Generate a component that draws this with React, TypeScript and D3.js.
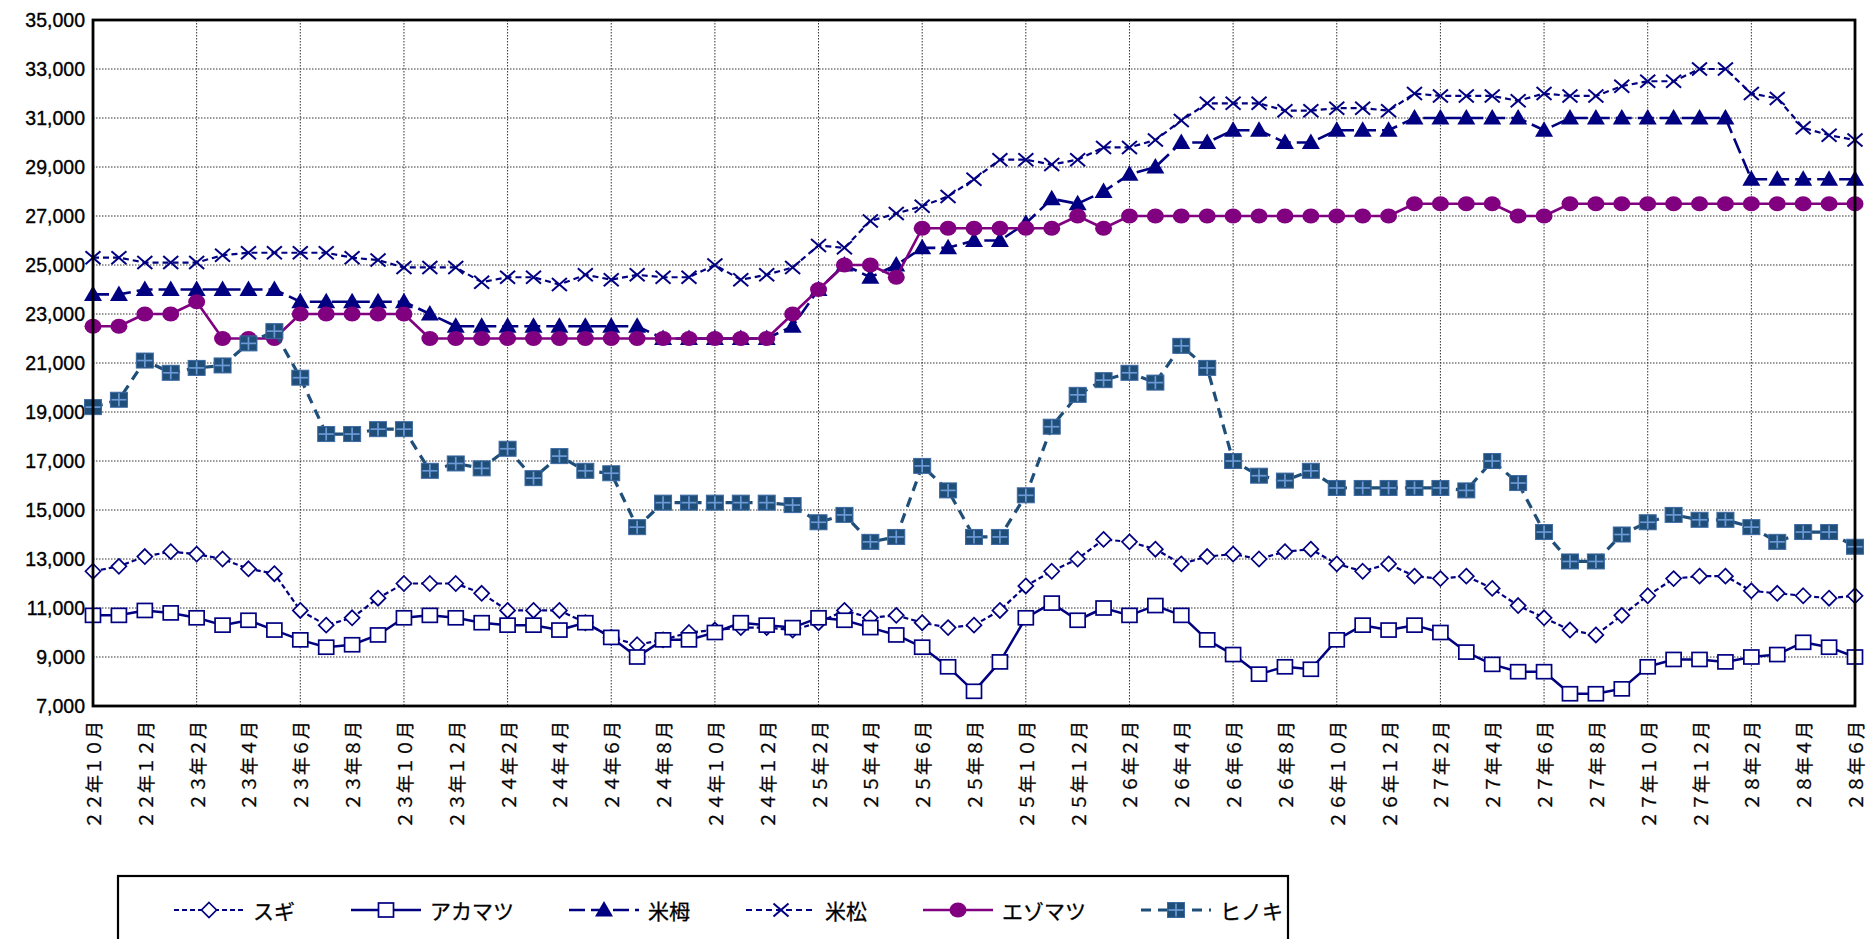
import React from 'react';
import * as d3 from 'd3';

// Categories: monthly from 22年10月 to 28年6月 (69 months)
const months: string[] = [
  '22/10','22/11','22/12','23/1','23/2','23/3','23/4','23/5','23/6','23/7','23/8','23/9','23/10','23/11','23/12',
  '24/1','24/2','24/3','24/4','24/5','24/6','24/7','24/8','24/9','24/10','24/11','24/12',
  '25/1','25/2','25/3','25/4','25/5','25/6','25/7','25/8','25/9','25/10','25/11','25/12',
  '26/1','26/2','26/3','26/4','26/5','26/6','26/7','26/8','26/9','26/10','26/11','26/12',
  '27/1','27/2','27/3','27/4','27/5','27/6','27/7','27/8','27/9','27/10','27/11','27/12',
  '28/1','28/2','28/3','28/4','28/5','28/6'
];

// X tick labels (every 2 months)
const xTickLabels: string[] = [
  '２２年１０月','２２年１２月','２３年２月','２３年４月','２３年６月','２３年８月','２３年１０月','２３年１２月',
  '２４年２月','２４年４月','２４年６月','２４年８月','２４年１０月','２４年１２月',
  '２５年２月','２５年４月','２５年６月','２５年８月','２５年１０月','２５年１２月',
  '２６年２月','２６年４月','２６年６月','２６年８月','２６年１０月','２６年１２月',
  '２７年２月','２７年４月','２７年６月','２７年８月','２７年１０月','２７年１２月',
  '２８年２月','２８年４月','２８年６月'
];

const yTicks: number[] = [7000, 9000, 11000, 13000, 15000, 17000, 19000, 21000, 23000, 25000, 27000, 29000, 31000, 33000, 35000];

const sugi: number[] = [
  12500,12700,13100,13300,13200,13000,12600,12400,10900,10300,
  10600,11400,12000,12000,12000,11600,10900,10900,10900,10400,9800,
  9500,9700,10000,10100,10200,10200,10100,10400,10900,10600,10700,10400,
  10200,10300,10900,11900,12500,13000,13800,13700,13400,12800,13100,
  13200,13000,13300,13400,12800,12500,12800,12300,12200,12300,11800,11100,
  10600,10100,9900,10700,11500,12200,12300,12300,11700,11600,11500,11400,11500
];

const akamatsu: number[] = [
  10700,10700,10900,10800,10600,10300,10500,10100,9700,9400,
  9500,9900,10600,10700,10600,10400,10300,10300,10100,10400,9800,
  9000,9700,9700,10000,10400,10300,10200,10600,10500,10200,9900,9400,
  8600,7600,8800,10600,11200,10500,11000,10700,11100,10700,9700,
  9100,8300,8600,8500,9700,10300,10100,10300,10000,9200,8700,8400,
  8400,7500,7500,7700,8600,8900,8900,8800,9000,9100,9600,9400,9000
];

const beitsuga: number[] = [
  23800,23800,24000,24000,24000,24000,24000,24000,23500,23500,
  23500,23500,23500,23000,22500,22500,22500,22500,22500,22500,22500,
  22500,22000,22000,22000,22000,22000,22500,24000,25000,24500,25000,25700,
  25700,26000,26000,26700,27700,27500,28000,28700,29000,30000,30000,
  30500,30500,30000,30000,30500,30500,30500,31000,31000,31000,31000,31000,
  30500,31000,31000,31000,31000,31000,31000,31000,28500,28500,28500,28500,28500
];

const beimatsu: number[] = [
  25300,25300,25100,25100,25100,25400,25500,25500,25500,25500,
  25300,25200,24900,24900,24900,24300,24500,24500,24200,24600,24400,
  24600,24500,24500,25000,24400,24600,24900,25800,25700,26800,27100,27400,
  27800,28500,29300,29300,29100,29300,29800,29800,30100,30900,31600,
  31600,31600,31300,31300,31400,31400,31300,32000,31900,31900,31900,31700,
  32000,31900,31900,32300,32500,32500,33000,33000,32000,31800,30600,30300,30100
];

const ezomatsu: number[] = [
  22500,22500,23000,23000,23500,22000,22000,22000,23000,23000,
  23000,23000,23000,22000,22000,22000,22000,22000,22000,22000,22000,
  22000,22000,22000,22000,22000,22000,23000,24000,25000,25000,24500,26500,
  26500,26500,26500,26500,26500,27000,26500,27000,27000,27000,27000,
  27000,27000,27000,27000,27000,27000,27000,27500,27500,27500,27500,27000,
  27000,27500,27500,27500,27500,27500,27500,27500,27500,27500,27500,27500,27500
];

const hinoki: number[] = [
  19200,19500,21100,20600,20800,20900,21800,22300,20400,18100,
  18100,18300,18300,16600,16900,16700,17500,16300,17200,16600,16500,
  14300,15300,15300,15300,15300,15300,15200,14500,14800,13700,13900,16800,
  15800,13900,13900,15600,18400,19700,20300,20600,20200,21700,20800,
  17000,16400,16200,16600,15900,15900,15900,15900,15900,15800,17000,16100,
  14100,12900,12900,14000,14500,14800,14600,14600,14300,13700,14100,14100,13500
];

type MarkerKind = 'diamond' | 'square' | 'triangle' | 'cross' | 'circle' | 'hinoki';

interface SeriesDef {
  name: string;
  values: number[];
  color: string;
  width: number;
  dash: string;
  marker: MarkerKind;
}

const NAVY = '#000080';
const PURPLE = '#800080';
const HINOKI = '#1F4E79';

const seriesDefs: SeriesDef[] = [
  { name: 'スギ', values: sugi, color: NAVY, width: 2.2, dash: '5,3', marker: 'diamond' },
  { name: 'アカマツ', values: akamatsu, color: NAVY, width: 2.5, dash: '', marker: 'square' },
  { name: '米栂', values: beitsuga, color: NAVY, width: 2.6, dash: '16,6', marker: 'triangle' },
  { name: '米松', values: beimatsu, color: NAVY, width: 2.2, dash: '6,4', marker: 'cross' },
  { name: 'エゾマツ', values: ezomatsu, color: PURPLE, width: 2.6, dash: '', marker: 'circle' },
  { name: 'ヒノキ', values: hinoki, color: HINOKI, width: 3.2, dash: '10,7', marker: 'hinoki' },
];

const W = 1868;
const H = 939;
const PL = 93, PR = 1855, PT = 20, PB = 706;

function Marker({ kind, x, y, color }: { kind: MarkerKind; x: number; y: number; color: string }) {
  switch (kind) {
    case 'diamond':
      return <polygon points={`${x},${y - 7.5} ${x + 7.5},${y} ${x},${y + 7.5} ${x - 7.5},${y}`} fill="#fff" stroke={color} strokeWidth={1.7} />;
    case 'square':
      return <rect x={x - 7.5} y={y - 7} width={15} height={14} fill="#fff" stroke={color} strokeWidth={1.7} />;
    case 'triangle':
      return <polygon points={`${x},${y - 9} ${x + 9},${y + 6.5} ${x - 9},${y + 6.5}`} fill={color} />;
    case 'cross':
      return (
        <g stroke={color} strokeWidth={2}>
          <line x1={x - 7.5} y1={y - 6.5} x2={x + 7.5} y2={y + 6.5} />
          <line x1={x - 7.5} y1={y + 6.5} x2={x + 7.5} y2={y - 6.5} />
        </g>
      );
    case 'circle':
      return <ellipse cx={x} cy={y} rx={8.5} ry={7.5} fill={color} />;
    case 'hinoki':
      return (
        <g>
          <rect x={x - 8.5} y={y - 7.5} width={17} height={15} fill={HINOKI} stroke="#3D6AA3" strokeWidth={1} />
          <line x1={x} y1={y - 6.5} x2={x} y2={y + 6.5} stroke="#6D9AD6" strokeWidth={1.7} />
          <line x1={x - 7.5} y1={y} x2={x + 7.5} y2={y} stroke="#6D9AD6" strokeWidth={1.7} />
        </g>
      );
  }
  return null;
}

export default function App() {
  const x = d3.scaleLinear().domain([0, months.length - 1]).range([PL, PR]);
  const y = d3.scaleLinear().domain([7000, 35000]).range([PB, PT]);
  const lineGen = d3.line<number>().x((_, i) => x(i)).y(d => y(d));
  const fmt = d3.format(',');

  const vGrid = d3.range(4, months.length - 1, 4);

  // legend layout
  const legendY = 910;
  let cursor = 174;
  const legendItems = seriesDefs.map(s => {
    const start = cursor;
    const textW = s.name.length * 20.5;
    cursor = start + 70 + 9 + textW + 57;
    return { s, start };
  });

  return (
    <svg width={W} height={H} style={{ position: 'fixed', left: 0, top: 0, background: '#fff' }}
      fontFamily="'Liberation Sans', Arial, sans-serif">
      <rect x={0} y={0} width={W} height={H} fill="#fff" />
      {/* grid */}
      {yTicks.filter(t => t > 7000 && t < 35000).map(t => (
        <line key={'h' + t} x1={PL} x2={PR} y1={y(t)} y2={y(t)} stroke="#333" strokeWidth={1} strokeDasharray="1.5,1.5" />
      ))}
      {vGrid.map(i => (
        <line key={'v' + i} x1={x(i)} x2={x(i)} y1={PT} y2={PB} stroke="#333" strokeWidth={1} strokeDasharray="1.5,1.5" />
      ))}
      {/* y tick labels */}
      {yTicks.map(t => (
        <text key={'yl' + t} x={85} y={y(t)} textAnchor="end" dominantBaseline="central" fontSize={19.5} fill="#000"
          stroke="#000" strokeWidth={0.35}>
          {fmt(t)}
        </text>
      ))}
      {/* x tick labels */}
      {xTickLabels.map((lab, k) => {
        const xi = x(k * 2);
        return (
          <text key={'xl' + k} transform={`translate(${xi},721) rotate(-90)`} textAnchor="end" dominantBaseline="central"
            fontSize={18} fontFamily="'Noto Sans CJK JP', sans-serif" fill="#000" stroke="#000" strokeWidth={0.25}>
            {lab}
          </text>
        );
      })}
      {/* series */}
      {seriesDefs.map(s => (
        <g key={s.name}>
          <path d={lineGen(s.values) || ''} fill="none" stroke={s.color} strokeWidth={s.width}
            strokeDasharray={s.dash || undefined} strokeLinejoin="round" />
          {s.values.map((v, i) => (
            <Marker key={i} kind={s.marker} x={x(i)} y={y(v)} color={s.color} />
          ))}
        </g>
      ))}
      {/* plot border */}
      <rect x={PL} y={PT} width={PR - PL} height={PB - PT} fill="none" stroke="#000" strokeWidth={2.8} />
      {/* legend */}
      <rect x={118} y={876} width={1288 - 118} height={100} fill="none" stroke="#000" strokeWidth={2.2} />
      {legendItems.map(({ s, start }) => (
        <g key={'lg' + s.name}>
          <line x1={start} x2={start + 70} y1={legendY} y2={legendY} stroke={s.color} strokeWidth={s.width}
            strokeDasharray={s.dash || undefined} />
          <Marker kind={s.marker} x={start + 35} y={legendY} color={s.color} />
          <text x={start + 79} y={legendY} dominantBaseline="central" fontSize={21}
            fontFamily="'Noto Sans CJK JP', sans-serif" fill="#000" stroke="#000" strokeWidth={0.3}>{s.name}</text>
        </g>
      ))}
    </svg>
  );
}
